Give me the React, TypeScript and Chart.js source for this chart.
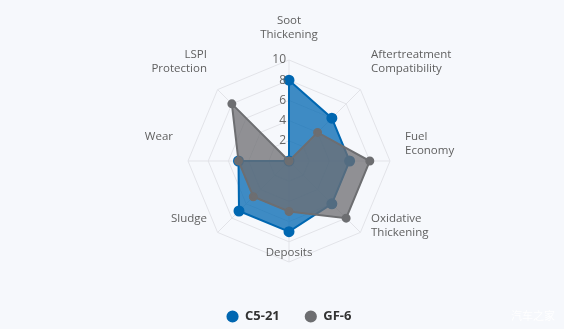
import React, { useEffect, useRef } from "react";
import { Chart, registerables } from "chart.js";

Chart.register(...registerables);

const categories: (string | string[])[] = [
  ["Soot", "Thickening"],
  ["Aftertreatment", "Compatibility"],
  ["Fuel", "Economy"],
  ["Oxidative", "Thickening"],
  "Deposits",
  "Sludge",
  "Wear",
  ["LSPI", "Protection"],
];
const c521Values = [8, 6, 6, 6, 7, 7, 5, 0];
const gf6Values = [0, 4, 8, 8, 5, 5, 5, 8];
const tickLabels = [2, 4, 6, 8, 10];
const seriesNames = ["C5-21", "GF-6"];

const FONT = "'Open Sans', 'Noto Sans', sans-serif";

const labelPlugin = {
  id: "customLabels",
  afterDatasetsDraw(chart: any) {
    const s = chart.scales.r;
    const ctx = chart.ctx;
    ctx.save();
    ctx.font = `12px ${FONT}`;
    ctx.fillStyle = "#666";
    ctx.textAlign = "right";
    ctx.textBaseline = "middle";
    for (const t of tickLabels) {
      const d = s.getDistanceFromCenterForValue(t);
      ctx.fillText(String(t), s.xCenter - 3, s.yCenter - d);
    }
    ctx.font = `11.5px ${FONT}`;
    ctx.fillStyle = "#5f5f5f";
    const lineH = 14;
    categories.forEach((lab, i) => {
      const p = s.getPointPosition(i, s.drawingArea + 15);
      const lines = Array.isArray(lab) ? lab : [lab];
      const dx = p.x - s.xCenter;
      ctx.textAlign = Math.abs(dx) < 1 ? "center" : dx > 0 ? "left" : "right";
      lines.forEach((ln, k) => {
        ctx.fillText(ln, p.x, p.y - 24 + k * lineH);
      });
    });
    ctx.restore();
  },
};

export default function App() {
  const ref = useRef<HTMLCanvasElement>(null);
  useEffect(() => {
    document.body.style.margin = "0";
    const chart = new Chart(ref.current!, {
      type: "radar",
      data: {
        labels: categories as any,
        datasets: [
          {
            label: seriesNames[0],
            data: c521Values,
            borderColor: "#0067b1",
            backgroundColor: "rgba(0,103,177,0.75)",
            pointBackgroundColor: "#0067b1",
            pointBorderColor: "#0067b1",
            pointRadius: 4.5,
            borderWidth: 2,
            order: 1,
          },
          {
            label: seriesNames[1],
            data: gf6Values,
            borderColor: "#6d6e71",
            backgroundColor: "rgba(109,110,113,0.75)",
            pointBackgroundColor: "#6d6e71",
            pointBorderColor: "#6d6e71",
            pointRadius: 3.5,
            borderWidth: 2,
            order: 0,
          },
        ],
      },
      options: {
        animation: false,
        responsive: false,
        layout: { padding: { top: 37, bottom: -4, left: 188, right: 174 } },
        plugins: {
          legend: {
            position: "bottom",
            labels: {
              usePointStyle: true,
              pointStyle: "circle",
              boxWidth: 12,
              boxHeight: 7.2,
              padding: 25,
              color: "#333",
              sort: (a: any, b: any) => a.datasetIndex - b.datasetIndex,
              font: { size: 13, weight: "bold", family: FONT },
            },
          },
          tooltip: { enabled: false },
        },
        scales: {
          r: {
            min: 0,
            max: 10,
            ticks: { stepSize: 2, display: false },
            grid: { color: "#e2e3e8", lineWidth: 1 },
            angleLines: { color: "#e2e3e8" },
            pointLabels: { display: false },
          },
        },
      },
      plugins: [labelPlugin],
    });
    return () => chart.destroy();
  }, []);
  return (
    <div style={{ position: "relative", width: 564, height: 329, background: "#f6f8fc" }}>
      <canvas ref={ref} width={564} height={329} style={{ display: "block" }} />
      <span
        style={{
          position: "absolute",
          left: 511,
          top: 307,
          fontSize: 11,
          color: "rgba(255,255,255,0.9)",
          fontFamily: "'Noto Sans CJK SC', sans-serif",
        }}
      >
        汽车之家
      </span>
    </div>
  );
}
